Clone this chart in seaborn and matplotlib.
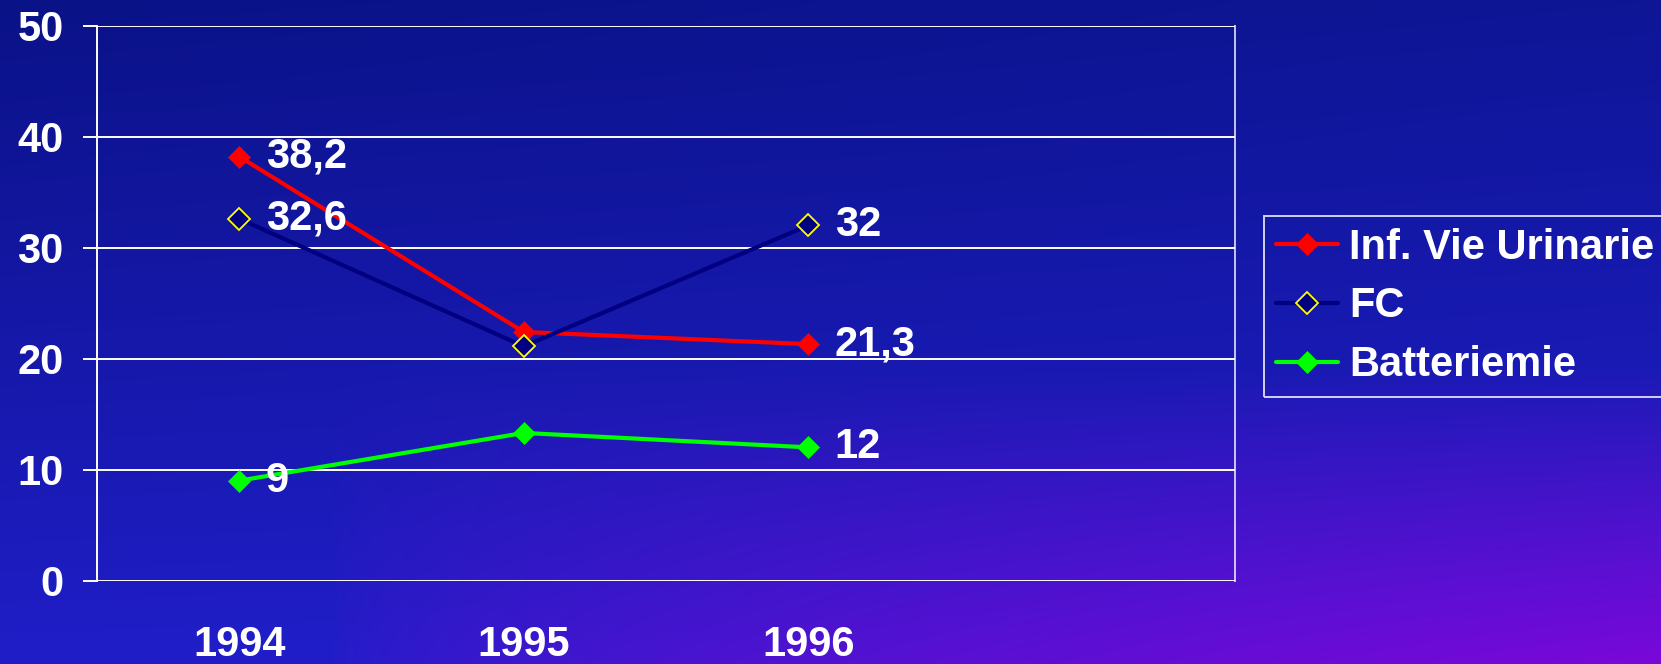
import numpy as np
import pandas as pd
import matplotlib
matplotlib.use("Agg")
import matplotlib.pyplot as plt
import seaborn as sns

# Data
anni = ["1994", "1995", "1996"]
inf_vie_urinarie = [38.2, 22.4, 21.3]
fc = [32.6, 21.1, 32.0]
batteriemie = [9.0, 13.3, 12.0]
serie = ["Inf. Vie Urinarie", "FC", "Batteriemie"]
y_ticks = [0, 10, 20, 30, 40, 50]

sns.set_theme(style="white")
plt.rcParams["font.family"] = ["Liberation Sans", "DejaVu Sans"]
plt.rcParams["font.weight"] = "bold"

W, H = 1661, 664
fig = plt.figure(figsize=(W / 100, H / 100), dpi=100)

# Background gradient: navy at the top, brighter blue lower down, violet towards bottom-right
u = np.linspace(0, 1, W)[None, :]
v = np.linspace(0, 1, H)[:, None]
tl = np.array([10, 18, 135]) / 255
tr = np.array([14, 22, 150]) / 255
bl = np.array([32, 30, 200]) / 255
br = np.array([34, 30, 205]) / 255
base = (tl * ((1 - u) * (1 - v))[..., None] + tr * (u * (1 - v))[..., None]
        + bl * ((1 - u) * v)[..., None] + br * (u * v)[..., None])
purple = np.array([122, 8, 216]) / 255
w = np.clip((v - 0.55) / 0.45, 0, 1) * np.clip((u - 0.2) / 0.8, 0, 1) ** 0.6
grad = base * (1 - w[..., None]) + purple * w[..., None]
bg = fig.add_axes([0, 0, 1, 1], zorder=-10)
bg.imshow(grad, aspect="auto", extent=(0, 1, 0, 1), origin="upper")
bg.axis("off")

left, right, top, bottom = 97, 1235, 25.7, 580.5
ax = fig.add_axes([left / W, (H - bottom) / H, (right - left) / W, (bottom - top) / H])
ax.set_facecolor("none")

styles = {
    "Inf. Vie Urinarie": dict(color="#ff0000", mfc="#ff0000", mec="#ff0000", mew=0.5),
    "FC": dict(color="#000080", mfc="#000080", mec="#ffff00", mew=1.3),
    "Batteriemie": dict(color="#00ff00", mfc="#00ff00", mec="#00ff00", mew=0.5),
}
valori = {"Inf. Vie Urinarie": inf_vie_urinarie, "FC": fc, "Batteriemie": batteriemie}

for nome in serie:
    df = pd.DataFrame({"Anno": anni, "Valore": valori[nome]})
    st = styles[nome]
    sns.lineplot(data=df, x="Anno", y="Valore", ax=ax, color=st["color"], lw=3,
                 marker="D", markersize=11.5, markerfacecolor=st["mfc"],
                 markeredgecolor=st["mec"], markeredgewidth=st["mew"],
                 label=nome, zorder=3, sort=False)

# Value labels at the first and last year
for nome in serie:
    vals = valori[nome]
    for i in (0, len(anni) - 1):
        txt = f"{vals[i]:g}".replace(".", ",")
        ax.annotate(txt, (i, vals[i]), xytext=(19, 0), textcoords="offset points",
                    ha="left", va="center", color="white", fontsize=30,
                    fontweight="bold", zorder=5)

ax.set_xlim(-0.5, 3.5)
ax.set_ylim(0, 50)
ax.set_yticks(y_ticks)
ax.set_yticklabels([str(t) for t in y_ticks])
ax.set_xticks(range(len(anni)))
ax.set_xticklabels(anni)
ax.set_xticks([-0.5, 0.5, 1.5, 2.5, 3.5], minor=True)
ax.tick_params(axis="x", which="major", length=0, pad=32, labelsize=30, labelcolor="white")
ax.tick_params(axis="x", which="minor", length=9.5, width=1.4, color="white", direction="out")
ax.tick_params(axis="y", which="major", length=10, width=1.4, color="white", direction="out",
               pad=14, labelsize=30, labelcolor="white", left=True)
ax.set_xlabel("")
ax.set_ylabel("")
ax.grid(axis="y", color="white", lw=1.4, zorder=1)
ax.grid(axis="x", visible=False)
ax.set_axisbelow(True)
for s in ("top", "bottom"):
    ax.spines[s].set_visible(False)
ax.spines["left"].set_color("white")
ax.spines["left"].set_linewidth(1.4)
ax.spines["right"].set_color((1, 1, 1, 0.75))
ax.spines["right"].set_linewidth(1.4)

handles, labels = ax.get_legend_handles_labels()
if ax.get_legend() is not None:
    ax.get_legend().remove()
leg = fig.legend(handles, labels, loc="upper left",
                 bbox_to_anchor=(1264 / W, (H - 216) / H), frameon=True, fancybox=False,
                 fontsize=30, handlelength=1.49, handletextpad=0.27, labelspacing=0.45,
                 borderpad=0.28, borderaxespad=0, labelcolor="white")
frame = leg.get_frame()
frame.set_facecolor("none")
frame.set_edgecolor("white")
frame.set_linewidth(1.4)

fig.savefig("out.png", dpi=100)
